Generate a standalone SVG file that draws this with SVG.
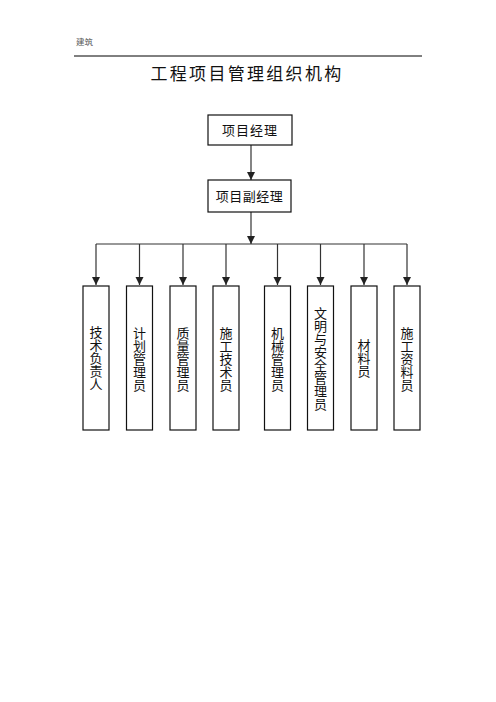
<svg xmlns="http://www.w3.org/2000/svg" width="496" height="702" viewBox="0 0 496 702">
<defs>
<marker id="arr" viewBox="0 0 8 10" refX="8" refY="5" markerWidth="8" markerHeight="10" markerUnits="userSpaceOnUse" orient="auto">
<path d="M0,1 L8,5 L0,9 Z" fill="#222"/>
</marker>
<style>
.t{font-family:"Noto Sans CJK SC","Noto Sans CJK JP",sans-serif;fill:#111;}
.box{fill:#fff;stroke:#111;stroke-width:1.2;}
.ln{stroke:#333;stroke-width:1.2;fill:none;}
.v{font-size:13px;text-anchor:middle;}
</style>
</defs>
<rect width="496" height="702" fill="#fff"/>
<text class="t" x="76" y="45" font-size="8.5" style="fill:#555">建筑</text>
<line x1="74" y1="56" x2="422" y2="56" stroke="#000" stroke-width="1"/>
<text class="t" x="247" y="80" font-size="17" letter-spacing="2.3" text-anchor="middle">工程项目管理组织机构</text>

<g id="connectors">
<line class="ln" x1="251" y1="145" x2="251" y2="180" marker-end="url(#arr)"/>
<line class="ln" x1="251" y1="212" x2="251" y2="244" marker-end="url(#arr)"/>
<line class="ln" x1="96" y1="244" x2="407" y2="244"/>
<line class="ln" x1="96" y1="244" x2="96" y2="285" marker-end="url(#arr)"/>
<line class="ln" x1="139.5" y1="244" x2="139.5" y2="285" marker-end="url(#arr)"/>
<line class="ln" x1="183" y1="244" x2="183" y2="285" marker-end="url(#arr)"/>
<line class="ln" x1="226" y1="244" x2="226" y2="285" marker-end="url(#arr)"/>
<line class="ln" x1="277.5" y1="244" x2="277.5" y2="285" marker-end="url(#arr)"/>
<line class="ln" x1="320.5" y1="244" x2="320.5" y2="285" marker-end="url(#arr)"/>
<line class="ln" x1="364" y1="244" x2="364" y2="285" marker-end="url(#arr)"/>
<line class="ln" x1="407" y1="244" x2="407" y2="285" marker-end="url(#arr)"/>
</g>

<g id="pm">
<rect class="box" x="208" y="115" width="84" height="30"/>
<text class="t" x="250" y="135" font-size="13" letter-spacing="1" text-anchor="middle">项目经理</text>
</g>
<g id="dpm">
<rect class="box" x="208" y="180" width="83" height="32"/>
<text class="t" x="249.5" y="201" font-size="13" letter-spacing="0.5" text-anchor="middle">项目副经理</text>
</g>

<g id="c1">
<rect class="box" x="83" y="286" width="26" height="144"/>
<text class="t v" x="96"><tspan x="96" y="337">技</tspan><tspan x="96" y="350">术</tspan><tspan x="96" y="363">负</tspan><tspan x="96" y="376">责</tspan><tspan x="96" y="389">人</tspan></text>
</g>
<g id="c2">
<rect class="box" x="126.5" y="286" width="26" height="144"/>
<text class="t v" x="139.5"><tspan x="139.5" y="338">计</tspan><tspan x="139.5" y="351">划</tspan><tspan x="139.5" y="364">管</tspan><tspan x="139.5" y="377">理</tspan><tspan x="139.5" y="390">员</tspan></text>
</g>
<g id="c3">
<rect class="box" x="170" y="286" width="26" height="144"/>
<text class="t v" x="183"><tspan x="183" y="338">质</tspan><tspan x="183" y="351">量</tspan><tspan x="183" y="364">管</tspan><tspan x="183" y="377">理</tspan><tspan x="183" y="390">员</tspan></text>
</g>
<g id="c4">
<rect class="box" x="213" y="286" width="26" height="144"/>
<text class="t v" x="226"><tspan x="226" y="338">施</tspan><tspan x="226" y="351">工</tspan><tspan x="226" y="364">技</tspan><tspan x="226" y="377">术</tspan><tspan x="226" y="390">员</tspan></text>
</g>
<g id="c5">
<rect class="box" x="264.5" y="286" width="26" height="144"/>
<text class="t v" x="277.5"><tspan x="277.5" y="338">机</tspan><tspan x="277.5" y="351">械</tspan><tspan x="277.5" y="364">管</tspan><tspan x="277.5" y="377">理</tspan><tspan x="277.5" y="390">员</tspan></text>
</g>
<g id="c6">
<rect class="box" x="307.5" y="286" width="26" height="144"/>
<text class="t v" x="320.5"><tspan x="320.5" y="318">文</tspan><tspan x="320.5" y="331">明</tspan><tspan x="320.5" y="344">与</tspan><tspan x="320.5" y="357">安</tspan><tspan x="320.5" y="370">全</tspan><tspan x="320.5" y="383">管</tspan><tspan x="320.5" y="396">理</tspan><tspan x="320.5" y="409">员</tspan></text>
</g>
<g id="c7">
<rect class="box" x="351" y="286" width="26" height="144"/>
<text class="t v" x="364"><tspan x="364" y="350">材</tspan><tspan x="364" y="363">料</tspan><tspan x="364" y="376">员</tspan></text>
</g>
<g id="c8">
<rect class="box" x="394" y="286" width="26" height="144"/>
<text class="t v" x="407"><tspan x="407" y="338">施</tspan><tspan x="407" y="351">工</tspan><tspan x="407" y="364">资</tspan><tspan x="407" y="377">料</tspan><tspan x="407" y="390">员</tspan></text>
</g>
</svg>
